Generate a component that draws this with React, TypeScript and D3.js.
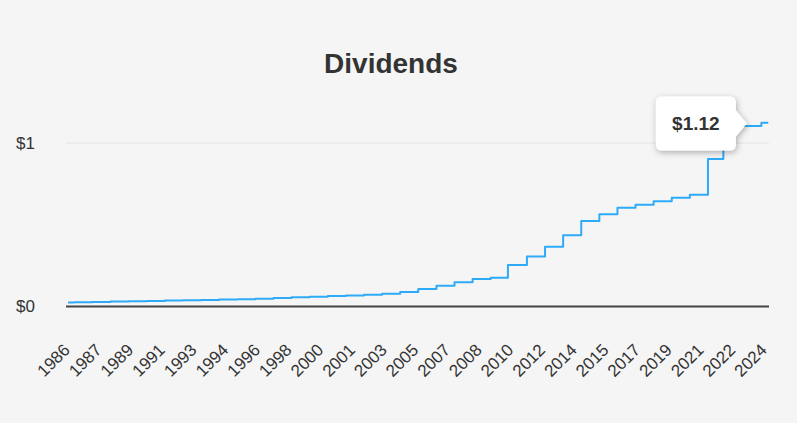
import { useEffect, useRef } from 'react';
import * as d3 from 'd3';

// dividend steps: [decimal year the rate took effect, annual dividend $]
const stepDates = [
  1986.0, 1986.35, 1987.35, 1988.35, 1989.35, 1990.35, 1991.35, 1992.35, 1993.35,
  1994.35, 1995.35, 1996.35, 1997.35, 1998.35, 1999.35, 2000.35, 2001.35, 2002.35,
  2003.35, 2004.35, 2005.35, 2006.35, 2007.35, 2008.35, 2009.35, 2010.3, 2011.35,
  2012.35, 2013.35, 2014.35, 2015.35, 2016.35, 2017.35, 2018.35, 2019.35, 2020.35,
  2021.35, 2022.2, 2024.3, 2024.68,
];
const stepValues = [
  0.022, 0.023, 0.025, 0.027, 0.029, 0.031, 0.033, 0.035, 0.037,
  0.040, 0.042, 0.045, 0.049, 0.053, 0.057, 0.061, 0.065, 0.069,
  0.075, 0.086, 0.104, 0.125, 0.145, 0.165, 0.174, 0.252, 0.303,
  0.364, 0.434, 0.521, 0.563, 0.603, 0.621, 0.642, 0.664, 0.683,
  0.902, 1.104, 1.125, 1.125,
];

const tickLabels = [
  '1986', '1987', '1989', '1991', '1993', '1994', '1996', '1998', '2000', '2001', '2003', '2005',
  '2007', '2008', '2010', '2012', '2014', '2015', '2017', '2019', '2021', '2022', '2024',
];
const firstTickDate = 1986.0;
const lastTickDate = 2024.5;

const yTicks = [0, 1];
const yTickLabels = ['$0', '$1'];

const hoverDate = 2023.5;
const hoverValue = 1.12;
const hoverLabel = '$1.12';

const W = 797;
const H = 423;
const FONT = '"Liberation Sans", Arial, sans-serif';

export default function App() {
  const svgRef = useRef<SVGSVGElement>(null);

  useEffect(() => {
    document.body.style.margin = '0';
    document.body.style.background = '#f5f5f5';
    if (!svgRef.current) return;

    const svg = d3.select(svgRef.current);
    svg.selectAll('*').remove();

    const x = d3.scaleLinear().domain([firstTickDate, lastTickDate]).range([68, 765]);
    const y = d3.scaleLinear().domain([0, 1]).range([306, 143]);
    const plotLeft = 66;
    const plotRight = 769;

    svg.append('rect').attr('width', W).attr('height', H).attr('fill', '#f5f5f5');

    // title
    svg.append('text')
      .attr('x', 391)
      .attr('y', 73)
      .attr('text-anchor', 'middle')
      .attr('font-family', FONT)
      .attr('font-size', 28)
      .attr('font-weight', 'bold')
      .attr('fill', '#333')
      .text('Dividends');

    // grid
    svg.append('line')
      .attr('x1', plotLeft).attr('x2', plotRight)
      .attr('y1', y(1)).attr('y2', y(1))
      .attr('stroke', '#e3e3e3')
      .attr('stroke-width', 1);

    // y labels
    svg.selectAll('.ylab')
      .data(yTicks)
      .enter()
      .append('text')
      .attr('class', 'ylab')
      .attr('x', 35)
      .attr('y', d => y(d) + 6)
      .attr('text-anchor', 'end')
      .attr('font-family', FONT)
      .attr('font-size', 17)
      .attr('fill', '#333')
      .text((_, i) => yTickLabels[i]);

    // x labels
    const xTick = d3.scalePoint<string>()
      .domain(tickLabels)
      .range([x(firstTickDate), x(lastTickDate)]);

    svg.selectAll('.xlab')
      .data(tickLabels)
      .enter()
      .append('text')
      .attr('class', 'xlab')
      .attr('text-anchor', 'end')
      .attr('font-family', FONT)
      .attr('font-size', 17)
      .attr('fill', '#333')
      .attr('transform', d => `translate(${(xTick(d) as number) + 3},351) rotate(-45)`)
      .text(d => d);

    // series
    const data = stepDates.map((d, i) => ({ date: d, value: stepValues[i] }));
    const line = d3.line<{ date: number; value: number }>()
      .x(d => x(d.date))
      .y(d => y(d.value))
      .curve(d3.curveStepAfter);

    svg.append('path')
      .datum(data)
      .attr('fill', 'none')
      .attr('stroke', '#2eaaf8')
      .attr('stroke-width', 2)
      .attr('stroke-linejoin', 'round')
      .attr('d', line);

    // baseline axis
    svg.append('line')
      .attr('x1', plotLeft).attr('x2', plotRight)
      .attr('y1', y(0) + 0.5).attr('y2', y(0) + 0.5)
      .attr('stroke', '#444')
      .attr('stroke-width', 2);

    // tooltip
    const defs = svg.append('defs');
    const filter = defs.append('filter')
      .attr('id', 'tipShadow')
      .attr('x', '-30%').attr('y', '-30%')
      .attr('width', '160%').attr('height', '160%');
    filter.append('feDropShadow')
      .attr('dx', 1).attr('dy', 2)
      .attr('stdDeviation', 3)
      .attr('flood-color', '#000')
      .attr('flood-opacity', 0.3);

    const tipX = x(hoverDate);
    const tipY = y(hoverValue);
    const boxW = 80;
    const boxH = 54;
    const r = 6;
    const bx = tipX - 11 - boxW;
    const by = tipY - boxH / 2;
    const br = bx + boxW;
    const bb = by + boxH;
    const tipPath = [
      `M${bx + r},${by}`,
      `L${br - r},${by}`,
      `Q${br},${by} ${br},${by + r}`,
      `L${br},${tipY - 13}`,
      `L${tipX},${tipY}`,
      `L${br},${tipY + 13}`,
      `L${br},${bb - r}`,
      `Q${br},${bb} ${br - r},${bb}`,
      `L${bx + r},${bb}`,
      `Q${bx},${bb} ${bx},${bb - r}`,
      `L${bx},${by + r}`,
      `Q${bx},${by} ${bx + r},${by}`,
      'Z',
    ].join(' ');

    svg.append('path')
      .attr('d', tipPath)
      .attr('fill', '#fff')
      .attr('filter', 'url(#tipShadow)');

    svg.append('text')
      .attr('x', bx + boxW / 2)
      .attr('y', tipY + 7)
      .attr('text-anchor', 'middle')
      .attr('font-family', FONT)
      .attr('font-size', 19)
      .attr('font-weight', 'bold')
      .attr('fill', '#333')
      .text(hoverLabel);
  }, []);

  return (
    <svg ref={svgRef} width={W} height={H} style={{ display: 'block' }} />
  );
}
